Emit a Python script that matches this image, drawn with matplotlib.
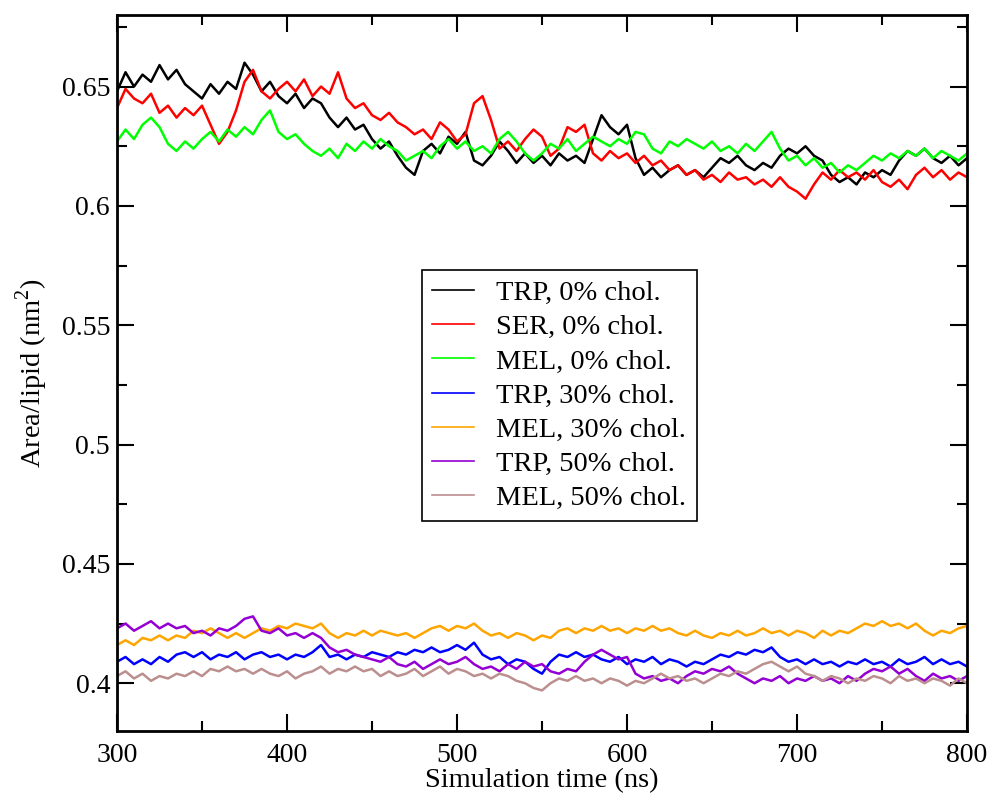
import numpy as np
import matplotlib
matplotlib.use("Agg")
import matplotlib.pyplot as plt
from matplotlib.ticker import MultipleLocator

plt.rcParams['font.family'] = ['Liberation Serif', 'DejaVu Serif']
plt.rcParams['mathtext.fontset'] = 'custom'
plt.rcParams['mathtext.rm'] = 'Liberation Serif'

time_ns = np.arange(300, 805, 5)

trp_0 = [0.648, 0.656, 0.650, 0.655, 0.652, 0.659, 0.653, 0.657, 0.651, 0.648,
         0.645, 0.651, 0.647, 0.652, 0.649, 0.660, 0.655, 0.648, 0.652, 0.646,
         0.643, 0.647, 0.641, 0.645, 0.643, 0.637, 0.633, 0.637, 0.632, 0.634,
         0.628, 0.624, 0.627, 0.621, 0.616, 0.613, 0.623, 0.626, 0.622, 0.629,
         0.626, 0.631, 0.619, 0.617, 0.621, 0.627, 0.623, 0.618, 0.622, 0.618,
         0.621, 0.617, 0.622, 0.619, 0.621, 0.618, 0.628, 0.638, 0.633, 0.630,
         0.634, 0.620, 0.613, 0.616, 0.612, 0.615, 0.617, 0.613, 0.615, 0.612,
         0.616, 0.620, 0.618, 0.621, 0.617, 0.615, 0.618, 0.616, 0.621, 0.624,
         0.622, 0.625, 0.621, 0.619, 0.613, 0.610, 0.612, 0.609, 0.614, 0.612,
         0.615, 0.613, 0.619, 0.623, 0.621, 0.624, 0.620, 0.618, 0.621, 0.617,
         0.620]

ser_0 = [0.641, 0.649, 0.645, 0.643, 0.647, 0.639, 0.642, 0.637, 0.641, 0.638,
         0.642, 0.634, 0.626, 0.631, 0.640, 0.652, 0.657, 0.648, 0.645, 0.649,
         0.652, 0.648, 0.653, 0.646, 0.650, 0.647, 0.656, 0.645, 0.641, 0.643,
         0.638, 0.636, 0.639, 0.635, 0.633, 0.630, 0.632, 0.628, 0.635, 0.632,
         0.627, 0.630, 0.643, 0.646, 0.636, 0.624, 0.627, 0.623, 0.628, 0.632,
         0.629, 0.621, 0.624, 0.633, 0.631, 0.634, 0.622, 0.619, 0.623, 0.620,
         0.622, 0.618, 0.621, 0.617, 0.619, 0.615, 0.617, 0.613, 0.615, 0.611,
         0.613, 0.610, 0.614, 0.611, 0.612, 0.609, 0.611, 0.608, 0.612, 0.608,
         0.606, 0.603, 0.609, 0.614, 0.611, 0.615, 0.612, 0.614, 0.611, 0.615,
         0.610, 0.608, 0.611, 0.607, 0.613, 0.616, 0.612, 0.615, 0.611, 0.614,
         0.612]

mel_0 = [0.627, 0.632, 0.628, 0.634, 0.637, 0.633, 0.626, 0.623, 0.627, 0.624,
         0.628, 0.631, 0.627, 0.632, 0.629, 0.633, 0.630, 0.636, 0.640, 0.631,
         0.628, 0.630, 0.626, 0.623, 0.621, 0.624, 0.620, 0.626, 0.623, 0.627,
         0.624, 0.628, 0.625, 0.623, 0.619, 0.621, 0.623, 0.620, 0.625, 0.628,
         0.624, 0.627, 0.623, 0.625, 0.622, 0.628, 0.631, 0.627, 0.622, 0.619,
         0.622, 0.626, 0.624, 0.628, 0.623, 0.626, 0.629, 0.627, 0.625, 0.628,
         0.626, 0.631, 0.630, 0.624, 0.622, 0.627, 0.625, 0.628, 0.626, 0.624,
         0.627, 0.623, 0.625, 0.622, 0.626, 0.623, 0.627, 0.631, 0.624, 0.619,
         0.621, 0.617, 0.620, 0.616, 0.618, 0.614, 0.617, 0.615, 0.618, 0.621,
         0.619, 0.622, 0.620, 0.623, 0.621, 0.624, 0.620, 0.623, 0.621, 0.619,
         0.622]

trp_30 = [0.409, 0.411, 0.408, 0.410, 0.408, 0.411, 0.409, 0.412, 0.413, 0.411,
          0.413, 0.410, 0.412, 0.411, 0.413, 0.410, 0.412, 0.413, 0.411, 0.412,
          0.410, 0.412, 0.411, 0.413, 0.416, 0.411, 0.412, 0.410, 0.412, 0.411,
          0.413, 0.412, 0.411, 0.413, 0.412, 0.414, 0.413, 0.415, 0.413, 0.414,
          0.416, 0.414, 0.417, 0.412, 0.410, 0.411, 0.408, 0.410, 0.409, 0.406,
          0.404, 0.409, 0.412, 0.411, 0.413, 0.411, 0.412, 0.410, 0.409, 0.411,
          0.408, 0.410, 0.409, 0.411, 0.408, 0.410, 0.409, 0.407, 0.409, 0.408,
          0.410, 0.412, 0.411, 0.413, 0.412, 0.414, 0.413, 0.415, 0.411, 0.409,
          0.410, 0.408, 0.410, 0.408, 0.409, 0.407, 0.409, 0.408, 0.410, 0.408,
          0.409, 0.407, 0.410, 0.408, 0.409, 0.411, 0.408, 0.410, 0.408, 0.409,
          0.407]

mel_30 = [0.416, 0.418, 0.416, 0.419, 0.418, 0.420, 0.418, 0.420, 0.419, 0.422,
          0.421, 0.423, 0.421, 0.419, 0.421, 0.419, 0.421, 0.423, 0.422, 0.424,
          0.423, 0.425, 0.424, 0.423, 0.425, 0.421, 0.419, 0.421, 0.420, 0.422,
          0.420, 0.422, 0.421, 0.420, 0.421, 0.419, 0.421, 0.423, 0.424, 0.422,
          0.424, 0.423, 0.425, 0.422, 0.420, 0.421, 0.419, 0.421, 0.420, 0.418,
          0.420, 0.419, 0.422, 0.423, 0.421, 0.423, 0.422, 0.424, 0.422, 0.423,
          0.421, 0.423, 0.422, 0.424, 0.422, 0.423, 0.421, 0.420, 0.422, 0.420,
          0.419, 0.421, 0.420, 0.422, 0.420, 0.421, 0.423, 0.421, 0.422, 0.420,
          0.422, 0.421, 0.419, 0.422, 0.420, 0.422, 0.421, 0.423, 0.425, 0.424,
          0.426, 0.424, 0.425, 0.423, 0.425, 0.422, 0.420, 0.422, 0.421, 0.423,
          0.424]

trp_50 = [0.423, 0.425, 0.422, 0.424, 0.426, 0.423, 0.425, 0.423, 0.424, 0.421,
          0.422, 0.420, 0.423, 0.422, 0.424, 0.427, 0.428, 0.422, 0.421, 0.423,
          0.420, 0.421, 0.419, 0.421, 0.419, 0.415, 0.413, 0.414, 0.412, 0.411,
          0.410, 0.409, 0.411, 0.408, 0.407, 0.409, 0.406, 0.408, 0.410, 0.408,
          0.409, 0.411, 0.408, 0.406, 0.407, 0.405, 0.408, 0.406, 0.409, 0.407,
          0.408, 0.405, 0.404, 0.406, 0.405, 0.409, 0.412, 0.414, 0.412, 0.410,
          0.411, 0.404, 0.402, 0.403, 0.401, 0.402, 0.400, 0.403, 0.405, 0.404,
          0.406, 0.405, 0.407, 0.404, 0.402, 0.400, 0.402, 0.401, 0.403, 0.400,
          0.402, 0.401, 0.403, 0.401, 0.402, 0.400, 0.403, 0.401, 0.404, 0.406,
          0.405, 0.407, 0.404, 0.406, 0.403, 0.401, 0.404, 0.402, 0.403, 0.401,
          0.403]

mel_50 = [0.403, 0.405, 0.402, 0.404, 0.401, 0.403, 0.402, 0.404, 0.403, 0.405,
          0.403, 0.406, 0.405, 0.407, 0.405, 0.406, 0.404, 0.406, 0.404, 0.403,
          0.405, 0.402, 0.404, 0.405, 0.407, 0.404, 0.406, 0.405, 0.407, 0.405,
          0.406, 0.403, 0.405, 0.403, 0.404, 0.406, 0.403, 0.405, 0.407, 0.404,
          0.406, 0.405, 0.403, 0.404, 0.402, 0.404, 0.403, 0.401, 0.400, 0.398,
          0.397, 0.400, 0.402, 0.401, 0.403, 0.401, 0.402, 0.400, 0.402, 0.401,
          0.399, 0.401, 0.400, 0.402, 0.404, 0.402, 0.403, 0.401, 0.402, 0.400,
          0.402, 0.404, 0.403, 0.405, 0.404, 0.406, 0.408, 0.409, 0.407, 0.405,
          0.407, 0.404, 0.403, 0.401, 0.403, 0.402, 0.400, 0.402, 0.401, 0.403,
          0.402, 0.400, 0.403, 0.401, 0.402, 0.400, 0.402, 0.401, 0.399, 0.402,
          0.400]

series = [trp_0, ser_0, mel_0, trp_30, mel_30, trp_50, mel_50]
labels = ["TRP, 0% chol.", "SER, 0% chol.", "MEL, 0% chol.", "TRP, 30% chol.",
          "MEL, 30% chol.", "TRP, 50% chol.", "MEL, 50% chol."]
colors = ["#000000", "#ff0000", "#00ff00", "#0000ff", "#ffa500", "#9400d3", "#bc8f8f"]

fig = plt.figure(figsize=(9.9, 7.96), dpi=100)
ax = fig.add_axes([0.1182, 0.0817, 0.8586, 0.8995])

for vals, lab, col in zip(series, labels, colors):
    ax.plot(time_ns, vals, color=col, lw=1.8, label=lab)

ax.set_xlim(300, 800)
ax.set_ylim(0.38, 0.68)
ax.xaxis.set_major_locator(MultipleLocator(100))
ax.xaxis.set_minor_locator(MultipleLocator(50))
ax.yaxis.set_minor_locator(MultipleLocator(0.025))
ax.set_yticks([0.4, 0.45, 0.5, 0.55, 0.6, 0.65])
ax.set_yticklabels(["0.4", "0.45", "0.5", "0.55", "0.6", "0.65"])

ax.tick_params(which='both', direction='in', top=True, right=True, width=1.5, labelsize=20)
ax.tick_params(which='major', length=12.5)
ax.tick_params(axis='x', which='major', pad=9)
ax.tick_params(axis='y', which='major', pad=5)
ax.tick_params(which='minor', length=7)
for sp in ax.spines.values():
    sp.set_linewidth(2)

ax.set_xlabel("Simulation time (ns)", fontsize=20.5, labelpad=0)
ax.set_ylabel("Area/lipid (nm$^2$)", fontsize=20.5, labelpad=8)

leg = ax.legend(loc='upper left', bbox_to_anchor=(0.359, 0.644), fontsize=20.5,
                frameon=True, fancybox=False, edgecolor='black', framealpha=1,
                handlelength=1.45, handletextpad=0.8, labelspacing=0.29,
                borderpad=0.36, borderaxespad=0)
leg.get_frame().set_linewidth(1.2)
for ln in leg.get_lines():
    ln.set_linewidth(1.2)

fig.savefig("out.png", dpi=100)
